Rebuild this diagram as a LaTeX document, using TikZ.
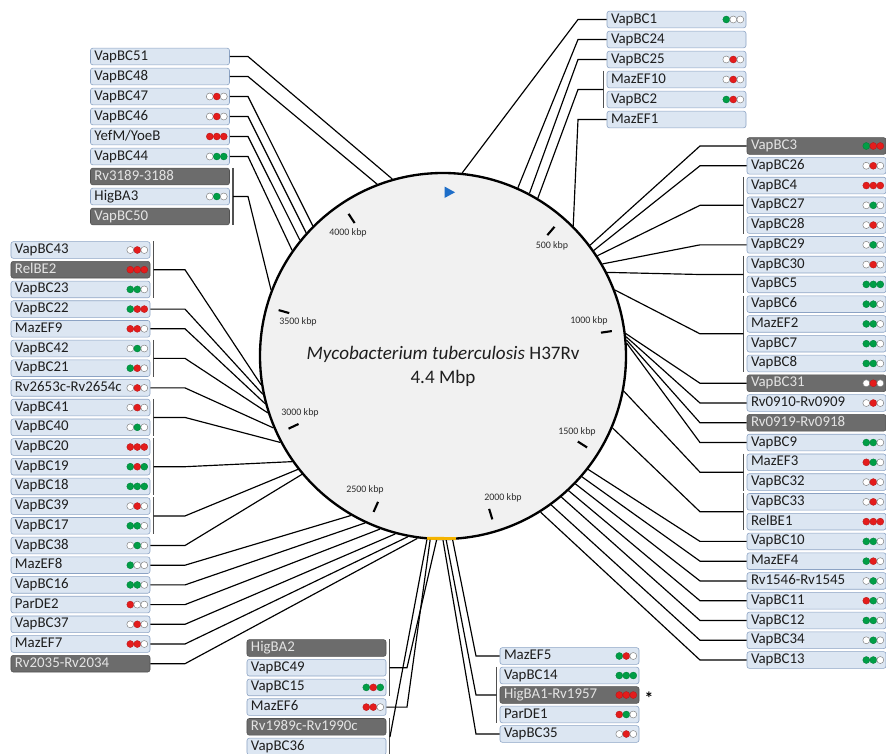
\documentclass[tikz,border=0pt]{standalone}
\usepackage{fontspec}
\setmainfont{Carlito}
\usepackage{tikz}
\usetikzlibrary{positioning,calc}

\definecolor{boxfill}{RGB}{220,230,242}
\definecolor{boxline}{RGB}{140,163,196}
\definecolor{darkfill}{RGB}{108,108,108}
\definecolor{darkline}{RGB}{80,80,80}
\definecolor{darktext}{RGB}{228,228,228}
\definecolor{boxtext}{RGB}{30,30,30}
\definecolor{genfill}{RGB}{241,241,241}
\definecolor{dotgreen}{RGB}{0,158,70}
\definecolor{dotred}{RGB}{228,28,28}
\definecolor{oriblue}{RGB}{30,110,200}
\definecolor{markyellow}{RGB}{245,180,0}

\begin{document}
\begin{tikzpicture}[x=0.03cm, y=-0.03cm,
    tabox/.style={draw=boxline, fill=boxfill, rounded corners=0.07cm, line width=0.5pt,
      text width=3.93cm, inner xsep=0.12cm, inner ysep=0pt, minimum height=0.5cm,
      text height=9pt, text depth=3pt, align=left, text=boxtext,
      font=\fontsize{12.7}{13}\selectfont},
    darkbox/.style={tabox, fill=darkfill, draw=darkline, text=darktext},
    gd/.style={fill=dotgreen, draw=dotgreen!80!black, line width=0.3pt},
    rd/.style={fill=dotred, draw=dotred!80!black, line width=0.3pt},
    wd/.style={fill=white, draw=gray, line width=0.4pt},
    nd/.style={},
    link/.style={line width=1pt},
    brk/.style={line width=1.2pt, draw=darkline},
    tick/.style={line width=1.8pt},
    kbp/.style={font=\fontsize{8.5}{9}\selectfont, text=black!82, inner sep=0pt}]

    \useasboundingbox (0,0) rectangle (886,754);

    % Genome circle
    \node[circle, draw, line width=2pt, fill=genfill, minimum size=10.98cm, inner sep=0pt] (g) at (443,356) {};
    \node[font=\fontsize{16.3}{18}\selectfont, text=boxtext] (title) at (443,354) {\textit{Mycobacterium tuberculosis} H37Rv};
    \node[font=\fontsize{16.3}{18}\selectfont, text=boxtext] (size) at (443,378) {4.4 Mbp};
    \fill[oriblue] (444.5,186.5) -- (444.5,198) -- (455,192.3) -- cycle;
    \draw[markyellow, line width=2.5pt] ([shift={(265:5.49cm)}]g.center) -- ([shift={(274:5.49cm)}]g.center);

    % Scale ticks every 500 kbp
    \foreach \k in {1,...,8}
      \draw[tick] ([shift={({90-40.8*\k}:4.79cm)}]g.center) -- ([shift={({90-40.8*\k}:5.12cm)}]g.center);
    \foreach \k/\lx/\ly in {500/552/246, 1000/589/321, 1500/577/432, 2000/503/498,
        2500/365/490, 3000/300/413, 3500/298/322, 4000/348/233}
      \node[kbp] (kb\k) at (\lx,\ly) {\k~kbp};

    % Bend columns
    \coordinate (tb) at (578,0);
    \coordinate (rb) at (700,0);
    \coordinate (lb) at (248,0);
    \coordinate (fb) at (185,0);
    \coordinate (cb) at (407,0);
    \coordinate (cb2) at (390,0);
    \coordinate (bb) at (476,0);

    % Top right column
    \foreach \n/\sty/\lbl/\spec [count=\i] in {
        tr1/tabox/VapBC1/{gd,wd,wd}, tr2/tabox/VapBC24/{nd}, tr3/tabox/VapBC25/{wd,rd,wd},
        tr4/tabox/MazEF10/{wd,rd,wd}, tr5/tabox/VapBC2/{gd,rd,wd}, tr6/tabox/MazEF1/{nd}}
    {
      \node[\sty] (\n) at (676.5,{19.5+20*(\i-1)}) {\lbl};
      \foreach \c [count=\j] in \spec
        \path[\c] ([xshift=0.21cm*\j-0.81cm]\n.east) circle (0.105cm);
    }

    % Right column
    \foreach \n/\sty/\lbl/\spec [count=\i] in {
        r1/darkbox/VapBC3/{gd,rd,rd}, r2/tabox/VapBC26/{wd,rd,wd}, r3/tabox/VapBC4/{rd,rd,rd},
        r4/tabox/VapBC27/{wd,gd,wd}, r5/tabox/VapBC28/{wd,rd,wd}, r6/tabox/VapBC29/{wd,gd,wd},
        r7/tabox/VapBC30/{wd,rd,wd}, r8/tabox/VapBC5/{gd,gd,gd}, r9/tabox/VapBC6/{gd,gd,wd},
        r10/tabox/MazEF2/{gd,gd,wd}, r11/tabox/VapBC7/{gd,gd,wd}, r12/tabox/VapBC8/{gd,gd,wd},
        r13/darkbox/VapBC31/{wd,rd,wd}, r14/tabox/Rv0910-Rv0909/{wd,rd,wd}, r15/darkbox/Rv0919-Rv0918/{nd},
        r16/tabox/VapBC9/{gd,gd,wd}, r17/tabox/MazEF3/{rd,gd,wd}, r18/tabox/VapBC32/{wd,rd,wd},
        r19/tabox/VapBC33/{wd,rd,wd}, r20/tabox/RelBE1/{rd,rd,rd}, r21/tabox/VapBC10/{gd,gd,wd},
        r22/tabox/MazEF4/{gd,rd,wd}, r23/tabox/Rv1546-Rv1545/{wd,gd,wd}, r24/tabox/VapBC11/{rd,gd,wd},
        r25/tabox/VapBC12/{gd,gd,wd}, r26/tabox/VapBC34/{wd,gd,wd}, r27/tabox/VapBC13/{gd,gd,wd}}
    {
      \node[\sty] (\n) at (816.5,{146+19.77*(\i-1)}) {\lbl};
      \foreach \c [count=\j] in \spec
        \path[\c] ([xshift=0.21cm*\j-0.81cm]\n.east) circle (0.105cm);
    }

    % Top left column
    \foreach \n/\sty/\lbl/\spec [count=\i] in {
        tl1/tabox/VapBC51/{nd}, tl2/tabox/VapBC48/{nd}, tl3/tabox/VapBC47/{wd,rd,wd},
        tl4/tabox/VapBC46/{wd,rd,wd}, tl5/tabox/{YefM/YoeB}/{rd,rd,rd}, tl6/tabox/VapBC44/{wd,gd,gd},
        tl7/darkbox/Rv3189-3188/{nd}, tl8/tabox/HigBA3/{wd,gd,wd}, tl9/darkbox/VapBC50/{nd}}
    {
      \node[\sty] (\n) at (160,{56.5+20*(\i-1)}) {\lbl};
      \foreach \c [count=\j] in \spec
        \path[\c] ([xshift=0.21cm*\j-0.81cm]\n.east) circle (0.105cm);
    }

    % Left column
    \foreach \n/\sty/\lbl/\spec [count=\i] in {
        lf1/tabox/VapBC43/{wd,rd,wd}, lf2/darkbox/RelBE2/{rd,rd,rd}, lf3/tabox/VapBC23/{gd,gd,wd},
        lf4/tabox/VapBC22/{gd,rd,rd}, lf5/tabox/MazEF9/{rd,rd,wd}, lf6/tabox/VapBC42/{wd,gd,wd},
        lf7/tabox/VapBC21/{gd,rd,wd}, lf8/tabox/Rv2653c-Rv2654c/{wd,rd,wd}, lf9/tabox/VapBC41/{wd,rd,wd},
        lf10/tabox/VapBC40/{wd,gd,wd}, lf11/tabox/VapBC20/{rd,rd,rd}, lf12/tabox/VapBC19/{gd,rd,gd},
        lf13/tabox/VapBC18/{gd,gd,gd}, lf14/tabox/VapBC39/{wd,rd,wd}, lf15/tabox/VapBC17/{gd,gd,wd},
        lf16/tabox/VapBC38/{wd,gd,wd}, lf17/tabox/MazEF8/{gd,wd,wd}, lf18/tabox/VapBC16/{gd,gd,wd},
        lf19/tabox/ParDE2/{rd,wd,wd}, lf20/tabox/VapBC37/{wd,rd,wd}, lf21/tabox/MazEF7/{rd,rd,wd},
        lf22/darkbox/Rv2035-Rv2034/{nd}}
    {
      \node[\sty] (\n) at (80.5,{250+19.7*(\i-1)}) {\lbl};
      \foreach \c [count=\j] in \spec
        \path[\c] ([xshift=0.21cm*\j-0.81cm]\n.east) circle (0.105cm);
    }

    % Bottom left column
    \foreach \n/\sty/\lbl/\spec [count=\i] in {
        bl1/darkbox/HigBA2/{nd}, bl2/tabox/VapBC49/{nd}, bl3/tabox/VapBC15/{gd,rd,gd},
        bl4/tabox/MazEF6/{rd,rd,wd}, bl5/darkbox/Rv1989c-Rv1990c/{nd}, bl6/tabox/VapBC36/{nd}}
    {
      \node[\sty] (\n) at (316.5,{648+19.7*(\i-1)}) {\lbl};
      \foreach \c [count=\j] in \spec
        \path[\c] ([xshift=0.21cm*\j-0.81cm]\n.east) circle (0.105cm);
    }

    % Bottom right column
    \foreach \n/\sty/\lbl/\spec [count=\i] in {
        br1/tabox/MazEF5/{gd,rd,wd}, br2/tabox/VapBC14/{gd,gd,gd}, br3/darkbox/HigBA1-Rv1957/{rd,rd,rd},
        br4/tabox/ParDE1/{rd,gd,wd}, br5/tabox/VapBC35/{wd,rd,wd}}
    {
      \node[\sty] (\n) at (569.5,{656+19.5*(\i-1)}) {\lbl};
      \foreach \c [count=\j] in \spec
        \path[\c] ([xshift=0.21cm*\j-0.81cm]\n.east) circle (0.105cm);
    }
    \node[right=0.15cm of br3, inner sep=0pt, font=\bfseries\fontsize{15}{15}\selectfont, yshift=-2.5pt] (ast) {*};

    % Brackets opening to the left, then links to the genome
    \foreach \a/\b/\k/\ang in {tr4/tr5/tb/59.6, r3/r5/rb/33, r7/r8/rb/27, r9/r12/rb/21,
        r17/r18/rb/349, r19/r20/rb/337.3, br2/br4/bb/271.5}
    {
      \draw[brk] ([xshift=-0.1cm]\a.north west) -- ([xshift=-0.1cm]\b.south west);
      \coordinate (m\a) at ($(\a.west)!.5!(\b.west)+(-0.1cm,0)$);
      \draw[link] (m\a) -- (m\a -| \k) -- (g.\ang);
    }
    % Brackets opening to the right
    \foreach \a/\b/\k/\ang in {tl7/tl9/lb/159, lf1/lf3/fb/189, lf6/lf7/fb/198, lf9/lf10/fb/208,
        lf11/lf13/fb/215.8, lf14/lf15/fb/218, bl1/bl3/cb/268, bl5/bl6/cb2/265}
    {
      \draw[brk] ([xshift=0.1cm]\a.north east) -- ([xshift=0.1cm]\b.south east);
      \coordinate (m\a) at ($(\a.east)!.5!(\b.east)+(0.1cm,0)$);
      \draw[link] (m\a) -- (m\a -| \k) -- (g.\ang);
    }

    % Single links
    \foreach \n/\k/\ang in {tr1/tb/84, tr2/tb/66, tr3/tb/62, tr6/tb/45.7, r1/rb/37, r2/rb/35,
        r6/rb/30, r13/rb/7, r14/rb/6, r15/rb/5, r16/rb/4, r21/rb/322.3, r22/rb/319, r23/rb/316,
        r24/rb/313, r25/rb/310, r26/rb/306, r27/rb/302, br1/bb/273, br5/bb/270.3}
      \draw[link] (\n.west) -- (\n.west -| \k) -- (g.\ang);
    \foreach \n/\k/\ang in {tl1/lb/106.6, tl2/lb/111, tl3/lb/135.7, tl4/lb/138, tl5/lb/141,
        tl6/lb/145.5, lf4/fb/192, lf5/fb/195, lf8/fb/203, lf16/fb/220, lf17/fb/240, lf18/fb/245.6,
        lf19/fb/250.7, lf20/fb/255, lf21/fb/259, lf22/fb/262, bl4/cb/266.5}
      \draw[link] (\n.east) -- (\n.east -| \k) -- (g.\ang);
\end{tikzpicture}
\end{document}
